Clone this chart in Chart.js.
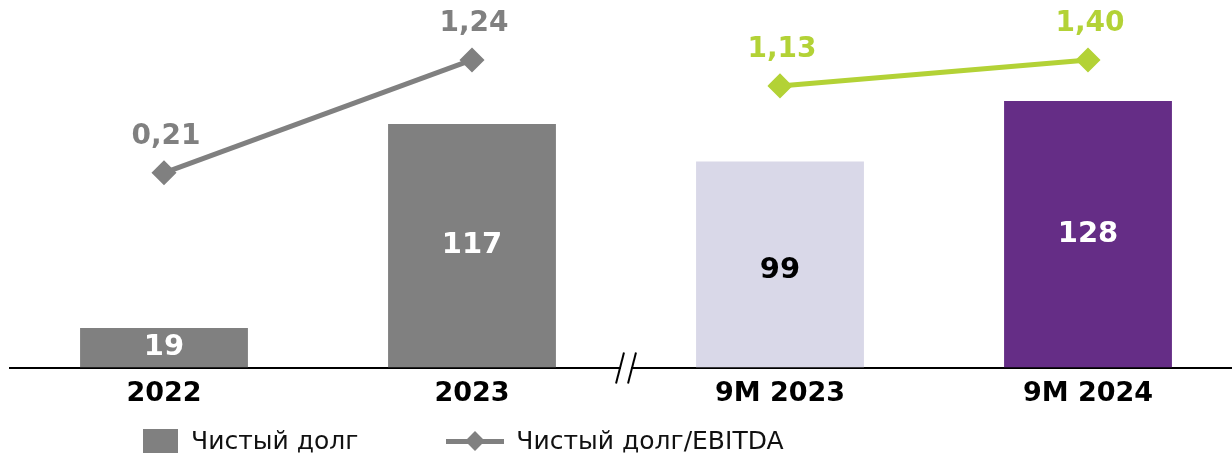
<!DOCTYPE html>
<html lang="ru">
<head>
<meta charset="UTF-8">
<title>Чистый долг</title>
<script src="https://cdn.jsdelivr.net/npm/chart.js"></script>
<style>
    html, body { margin: 0; padding: 0; background: #fff; overflow: hidden; }
    .wrap { position: relative; width: 1242px; height: 455px; }
    .legend { position: absolute; top: 426px; left: 143px; font-family: 'DejaVu Sans', sans-serif; font-size: 25px; color: #111; display: flex; align-items: center; }
    .legend .box { width: 35px; height: 24px; background: #808080; margin-right: 13px; }
    .legend .item { display: flex; align-items: center; }
    .legend .lineMark { position: relative; width: 58px; height: 24px; margin: 0 12px 0 88px; }
    .legend .lineMark:before { content: ''; position: absolute; left: 0; right: 0; top: 10px; height: 5px; background: #808080; }
    .legend .lineMark:after { content: ''; position: absolute; left: 22px; top: 5px; width: 14px; height: 14px; background: #808080; transform: rotate(45deg); }
</style>
</head>
<body>
<div class="wrap">
    <canvas id="grafico" width="1242" height="455"></canvas>
    <div class="legend">
        <div class="item"><span class="box"></span><span>Чистый долг</span></div>
        <div class="item"><span class="lineMark"></span><span>Чистый долг/EBITDA</span></div>
    </div>
</div>
<script>
    const categorias = ['2022', '2023', '9M 2023', '9M 2024'];
    const divida = [19, 117, 99, 128];
    const coresBarras = ['#808080', '#808080', '#d9d8e8', '#652d86'];
    const coresRotulos = ['#ffffff', '#ffffff', '#000000', '#ffffff'];
    const indiceAno = [0.21, 1.24, null, null];
    const indice9M = [null, null, 1.13, 1.40];

    const fonte = "'DejaVu Sans', sans-serif";

    const rotulos = {
        id: 'rotulos',
        afterDatasetsDraw(chart) {
            const ctx = chart.ctx;
            ctx.save();
            ctx.textAlign = 'center';
            ctx.textBaseline = 'middle';

            // valores dentro das barras
            const barras = chart.getDatasetMeta(0).data;
            ctx.font = 'bold 29px ' + fonte;
            barras.forEach((b, i) => {
                ctx.fillStyle = coresRotulos[i];
                ctx.fillText(divida[i], b.x, (b.y + b.base) / 2 + (i === 2 ? 6 : 0));
            });

            // valores das linhas
            ctx.font = 'bold 28px ' + fonte;
            [1, 2].forEach(d => {
                const ds = chart.data.datasets[d];
                chart.getDatasetMeta(d).data.forEach((p, i) => {
                    if (ds.data[i] == null) return;
                    ctx.fillStyle = ds.borderColor;
                    ctx.fillText(ds.data[i].toFixed(2).replace('.', ','), p.x + 2, p.y - 36);
                });
            });

            // quebra do eixo
            const area = chart.chartArea;
            const xq = (chart.scales.x.getPixelForValue(1) + chart.scales.x.getPixelForValue(2)) / 2;
            const yq = area.bottom;
            ctx.fillStyle = '#fff';
            ctx.fillRect(xq - 5, yq - 3, 10, 6);
            ctx.strokeStyle = '#000';
            ctx.lineWidth = 2;
            [-6, 6].forEach(dx => {
                ctx.beginPath();
                ctx.moveTo(xq + dx + 4, yq - 15);
                ctx.lineTo(xq + dx - 4, yq + 16);
                ctx.stroke();
            });
            ctx.restore();
        }
    };

    new Chart(document.getElementById('grafico'), {
        data: {
            labels: categorias,
            datasets: [
                {
                    type: 'bar',
                    label: 'Чистый долг',
                    data: divida,
                    backgroundColor: coresBarras,
                    barPercentage: 0.545,
                    categoryPercentage: 1,
                    yAxisID: 'y',
                    order: 2
                },
                {
                    type: 'line',
                    label: 'Чистый долг/EBITDA',
                    data: indiceAno,
                    borderColor: '#808080',
                    backgroundColor: '#808080',
                    borderWidth: 5,
                    pointStyle: 'rectRot',
                    pointRadius: 9,
                    pointHoverRadius: 9,
                    clip: false,
                    yAxisID: 'y1',
                    order: 1
                },
                {
                    type: 'line',
                    label: 'Чистый долг/EBITDA 9M',
                    data: indice9M,
                    borderColor: '#b3d236',
                    backgroundColor: '#b3d236',
                    borderWidth: 5,
                    pointStyle: 'rectRot',
                    pointRadius: 9,
                    pointHoverRadius: 9,
                    clip: false,
                    yAxisID: 'y2',
                    order: 1
                }
            ]
        },
        options: {
            responsive: false,
            animation: false,
            layout: { autoPadding: false, padding: { left: 10, right: 0, top: 0, bottom: 43 } },
            plugins: {
                legend: { display: false },
                tooltip: { enabled: false }
            },
            scales: {
                x: {
                    grid: { display: false },
                    border: { display: true, color: '#000', width: 2 },
                    ticks: { color: '#000', font: { family: fonte, size: 27, weight: 'bold' }, padding: 2 }
                },
                y: { display: false, min: 0, max: 176.5 },
                y1: { display: false, min: -1.568, max: 1.787 },
                y2: { display: false, min: -1.799, max: 2.023 }
            }
        },
        plugins: [rotulos]
    });
</script>
</body>
</html>
